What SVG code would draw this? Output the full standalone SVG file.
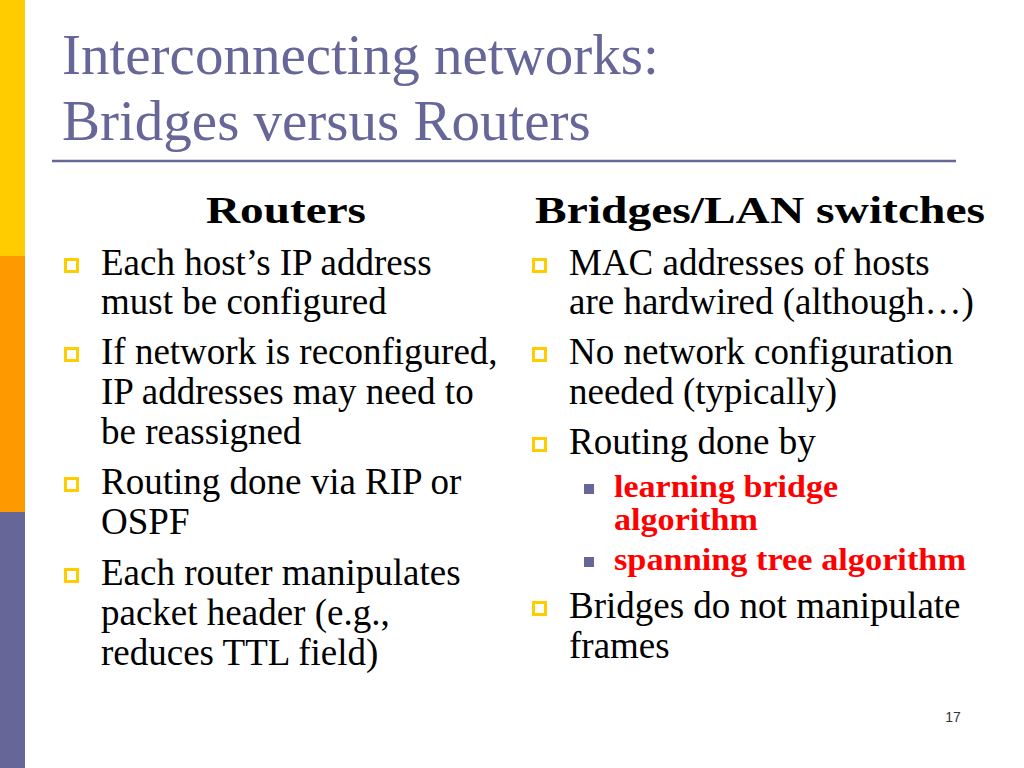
<svg xmlns="http://www.w3.org/2000/svg" width="1024" height="768" viewBox="0 0 1024 768">
<defs>
<style>
.title{font-family:"Liberation Serif",serif;font-size:57px;fill:#666699}
.head{font-family:"Liberation Serif",serif;font-size:38px;font-weight:bold;fill:#000}
.body{font-family:"Liberation Serif",serif;font-size:37px;fill:#000}
.red{font-family:"Liberation Serif",serif;font-size:31px;font-weight:bold;fill:#ff0000}
.bul{fill:none;stroke:#ffcc00;stroke-width:3}
.sub{fill:#666699}
.num{font-family:"Liberation Sans",sans-serif;font-size:14px;fill:#333;text-anchor:middle}
</style>
</defs>
<rect width="1024" height="768" fill="#fff"/>
<g id="sidebar">
<rect x="0" y="0" width="25" height="256" fill="#ffcc00"/>
<rect x="0" y="256" width="25" height="256" fill="#ff9900"/>
<rect x="0" y="512" width="25" height="256" fill="#666699"/>
</g>
<g id="title">
<text class="title" x="62" y="74">Interconnecting networks:</text>
<text class="title" x="62" y="140">Bridges versus Routers</text>
<line x1="52" y1="161" x2="956" y2="161" stroke="#666699" stroke-width="2.5"/>
</g>
<g id="routers">
<text class="head" x="206" y="223" textLength="160" lengthAdjust="spacingAndGlyphs">Routers</text>
<rect class="bul" x="65.5" y="259.5" width="12" height="12"/>
<text class="body" x="101" y="275">Each host’s IP address</text>
<text class="body" x="101" y="314">must be configured</text>
<rect class="bul" x="65.5" y="348.5" width="12" height="12"/>
<text class="body" x="101" y="364">If network is reconfigured,</text>
<text class="body" x="101" y="404">IP addresses may need to</text>
<text class="body" x="101" y="444">be reassigned</text>
<rect class="bul" x="65.5" y="478.5" width="12" height="12"/>
<text class="body" x="101" y="494">Routing done via RIP or</text>
<text class="body" x="101" y="534">OSPF</text>
<rect class="bul" x="65.5" y="569.5" width="12" height="12"/>
<text class="body" x="101" y="585">Each router manipulates</text>
<text class="body" x="101" y="625">packet header (e.g.,</text>
<text class="body" x="101" y="665">reduces TTL field)</text>
</g>
<g id="bridges">
<text class="head" x="535" y="223" textLength="450" lengthAdjust="spacingAndGlyphs">Bridges/LAN switches</text>
<rect class="bul" x="533.5" y="259.5" width="12" height="12"/>
<text class="body" x="569" y="275">MAC  addresses of hosts</text>
<text class="body" x="569" y="314">are hardwired (although…)</text>
<rect class="bul" x="533.5" y="348.5" width="12" height="12"/>
<text class="body" x="569" y="364">No network  configuration</text>
<text class="body" x="569" y="404">needed (typically)</text>
<rect class="bul" x="533.5" y="438.5" width="12" height="12"/>
<text class="body" x="569" y="454">Routing done by</text>
<rect class="sub" x="584" y="484" width="10" height="10"/>
<text class="red" x="614" y="497" textLength="224" lengthAdjust="spacingAndGlyphs">learning bridge</text>
<text class="red" x="614" y="530" textLength="144" lengthAdjust="spacingAndGlyphs">algorithm</text>
<rect class="sub" x="584" y="557" width="10" height="10"/>
<text class="red" x="614" y="570" textLength="352" lengthAdjust="spacingAndGlyphs">spanning tree algorithm</text>
<rect class="bul" x="533.5" y="602.5" width="12" height="12"/>
<text class="body" x="569" y="618">Bridges do not manipulate</text>
<text class="body" x="569" y="658">frames</text>
</g>
<text class="num" x="953" y="722">17</text>
</svg>
